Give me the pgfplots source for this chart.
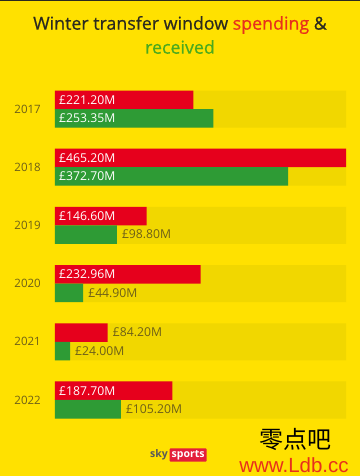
\documentclass[border=0pt]{standalone}
\usepackage{pgfplots}
\pgfplotsset{compat=1.18}
\usepackage{fontspec}
\setmainfont{Open Sans}
\newfontfamily\medfont{Open Sans}[FakeBold=0.6]
\newfontfamily\cjk{Noto Sans CJK SC}
\newfontfamily\arialf{Liberation Sans}
\definecolor{bg}{HTML}{FFE100}
\definecolor{band}{HTML}{F1D700}
\definecolor{sred}{HTML}{E6001C}
\definecolor{sgreen}{HTML}{2E9B35}
\definecolor{ttl}{HTML}{2B2A1F}
\definecolor{lab}{HTML}{6E6018}
\definecolor{tgreen}{HTML}{4BAA1E}
\definecolor{tred}{HTML}{E8301C}
\definecolor{logored}{HTML}{E41E3A}
\begin{document}
\begin{tikzpicture}[x=1pt,y=1pt]
\fill[bg] (0,0) rectangle (360,476);
\useasboundingbox (0,0) rectangle (360,476);
\fill[ttl] (0,474.8) rectangle (360,476);
\node[font=\medfont\fontsize{17.8}{20}\selectfont, text=ttl] at (180,451) {Winter transfer window \textcolor{tred}{spending} \&};
\node[font=\medfont\fontsize{17.8}{20}\selectfont, text=tgreen] at (180,429) {received};
\begin{axis}[
  at={(55pt,46.9pt)}, anchor=south west,
  scale only axis, width=291pt, height=349.2pt,
  xmin=0, xmax=465.2, ymin=-0.5, ymax=5.5,
  clip=false,
  axis line style={draw=none},
  major tick length=0pt,
  xtick=\empty,
  ytick={0,1,2,3,4,5},
  yticklabels={2022,2021,2020,2019,2018,2017},
  yticklabel style={font=\fontsize{11.5}{13}\selectfont, text=lab, inner sep=0pt, xshift=-14pt},
]
\addplot[xbar, fill=band, draw=none, bar width=37pt, bar shift=0pt]
  coordinates {(465.2,0) (465.2,1) (465.2,2) (465.2,3) (465.2,4) (465.2,5)};
\addplot[xbar, fill=sred, draw=none, bar width=18.5pt, bar shift=9.25pt]
  coordinates {(221.2,5) (465.2,4) (146.6,3) (232.96,2) (84.2,1) (187.7,0)};
\addplot[xbar, fill=sgreen, draw=none, bar width=18.5pt, bar shift=-9.25pt]
  coordinates {(253.35,5) (372.7,4) (98.8,3) (44.9,2) (24.0,1) (105.2,0)};
% inside labels, red row
\addplot[only marks, mark=*, mark size=0pt, mark options={draw=none,fill=none},
  point meta=explicit symbolic, nodes near coords,
  nodes near coords style={anchor=west, inner sep=0pt, xshift=4pt, yshift=9.25pt, text=white, font=\fontsize{12.2}{13}\selectfont}]
  coordinates {(0,5) [£221.20M] (0,4) [£465.20M] (0,3) [£146.60M] (0,2) [£232.96M] (0,0) [£187.70M]};
% inside labels, green row
\addplot[only marks, mark=*, mark size=0pt, mark options={draw=none,fill=none},
  point meta=explicit symbolic, nodes near coords,
  nodes near coords style={anchor=west, inner sep=0pt, xshift=4pt, yshift=-9.25pt, text=white, font=\fontsize{12.2}{13}\selectfont}]
  coordinates {(0,5) [£253.35M] (0,4) [£372.70M]};
% outside labels, red row
\addplot[only marks, mark=*, mark size=0pt, mark options={draw=none,fill=none},
  point meta=explicit symbolic, nodes near coords,
  nodes near coords style={anchor=west, inner sep=0pt, xshift=5pt, yshift=9.25pt, text=lab, font=\fontsize{12.2}{13}\selectfont}]
  coordinates {(84.2,1) [£84.20M]};
% outside labels, green row
\addplot[only marks, mark=*, mark size=0pt, mark options={draw=none,fill=none},
  point meta=explicit symbolic, nodes near coords,
  nodes near coords style={anchor=west, inner sep=0pt, xshift=5pt, yshift=-9.25pt, text=lab, font=\fontsize{12.2}{13}\selectfont}]
  coordinates {(98.8,3) [£98.80M] (44.9,2) [£44.90M] (24.0,1) [£24.00M] (105.2,0) [£105.20M]};
\end{axis}
% sky sports logo
\node[anchor=east, inner sep=0pt, font=\fontsize{10.5}{12}\selectfont\bfseries, text=black!65] at (168,21) {sky};
\node[anchor=west, inner sep=2pt, fill=logored, rounded corners=1pt, text=white, font=\fontsize{10.5}{12}\selectfont\bfseries] at (169.5,21) {sports};
% watermark
\node[font=\cjk\fontsize{24}{26}\selectfont, text=black] at (295,37) {零点吧};
\node[font=\arialf\fontsize{20.5}{22}\selectfont, text=tred] at (294,11) {www.Ldb.cc};
\end{tikzpicture}
\end{document}
